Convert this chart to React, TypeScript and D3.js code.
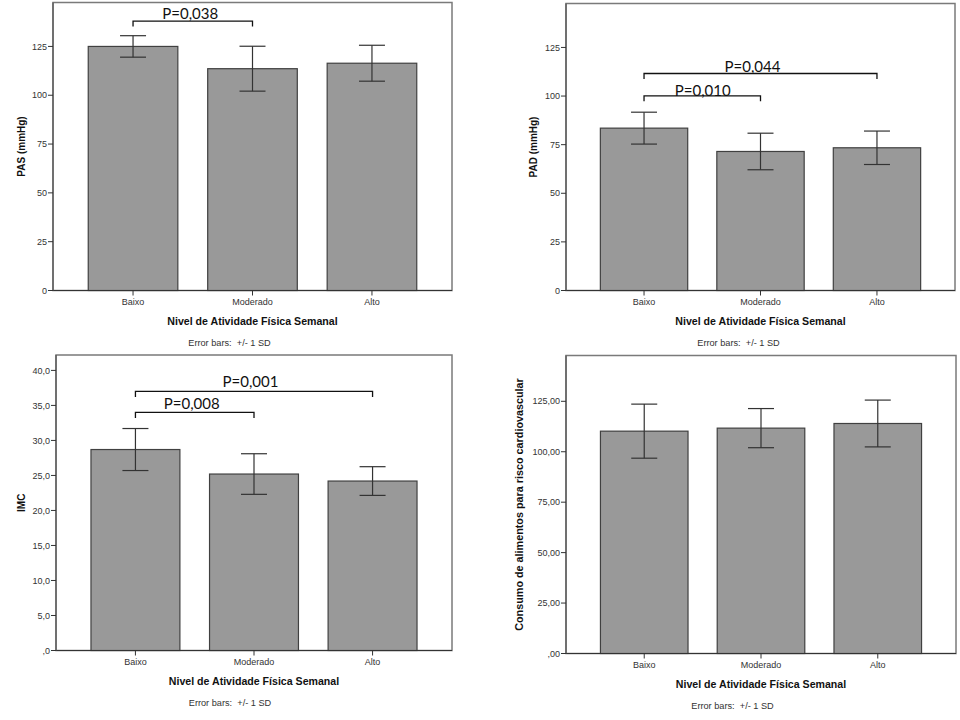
import React from "react";
import * as d3 from "d3";

// ---------- data ----------
const categories = ["Baixo", "Moderado", "Alto"];

const pasMean = [125.0, 113.6, 116.4];
const pasSD = [5.5, 11.5, 9.2];
const padMean = [83.5, 71.5, 73.4];
const padSD = [8.2, 9.4, 8.6];
const imcMean = [28.7, 25.2, 24.2];
const imcSD = [3.0, 2.9, 2.05];
const consMean = [110.2, 111.7, 114.0];
const consSD = [13.4, 9.7, 11.6];

const pasTicks = [0, 25, 50, 75, 100, 125];
const padTicks = [0, 25, 50, 75, 100, 125];
const imcTicks = [0, 5, 10, 15, 20, 25, 30, 35, 40];
const consTicks = [0, 25, 50, 75, 100, 125];

const pasBrackets = [{ from: 0, to: 1, level: 138, label: "P=0,038" }];
const padBrackets = [
  { from: 0, to: 2, level: 111.6, label: "P=0,044" },
  { from: 0, to: 1, level: 100.1, label: "P=0,010" },
];
const imcBrackets = [
  { from: 0, to: 2, level: 37.0, label: "P=0,001" },
  { from: 0, to: 1, level: 34.0, label: "P=0,008" },
];
const consBrackets: { from: number; to: number; level: number; label: string }[] = [];

const xTitle = "Nivel de Atividade Física Semanal";
const caption = "Error bars:  +/- 1 SD";

// ---------- formatting ----------
const fmtInt = (d: number) => String(d);
const fmt1 = (d: number) => (d === 0 ? ",0" : d.toFixed(1).replace(".", ","));
const fmt2 = (d: number) => (d === 0 ? ",00" : d.toFixed(2).replace(".", ","));

// ---------- layout (positions / styles) ----------
const panels = [
  {
    yLabel: "PAS (mmHg)", mean: pasMean, sd: pasSD, ticks: pasTicks, fmt: fmtInt, yMax: 147.5,
    brackets: pasBrackets, left: 53, right: 452, top: 2.5, bottom: 290.5, yLabelOff: 28.5, yLabelSize: 10,
    labelDx: [-2.5], labelDy: [-2.5], capOff: 23,
  },
  {
    yLabel: "PAD (mmHg)", mean: padMean, sd: padSD, ticks: padTicks, fmt: fmtInt, yMax: 147.6,
    brackets: padBrackets, left: 566, right: 955, top: 3.5, bottom: 290.5, yLabelOff: 29, yLabelSize: 10,
    labelDx: [-8, 0.5], labelDy: [-2, 0], capOff: 22,
  },
  {
    yLabel: "IMC", mean: imcMean, sd: imcSD, ticks: imcTicks, fmt: fmt1, yMax: 42.2,
    brackets: imcBrackets, left: 56, right: 452, top: 355, bottom: 650.5, yLabelOff: 31.5, yLabelSize: 10,
    labelDx: [-3.5, -3], labelDy: [-4, -3], capOff: 24,
  },
  {
    yLabel: "Consumo de alimentos para risco cardiovascular", mean: consMean, sd: consSD, ticks: consTicks,
    fmt: fmt2, yMax: 147.7, brackets: consBrackets, left: 566, right: 956, top: 355.5, bottom: 653.5,
    yLabelOff: 43, yLabelSize: 10.8, labelDx: [], labelDy: [], capOff: 28.5,
  },
];

const AXIS_FONT = "'Liberation Sans', Arial, sans-serif";
const P_FONT = "Lato, 'Open Sans', sans-serif";

function Panel({ p }: { p: (typeof panels)[number] }) {
  const x = d3.scalePoint<string>().domain(categories).range([p.left, p.right]).padding(0.67);
  const y = d3.scaleLinear().domain([0, p.yMax]).range([p.bottom, p.top]);
  const step = x.step();
  const bw = step * 0.75;
  const cap = 13;
  const midX = (p.left + p.right) / 2;
  const midY = (p.top + p.bottom) / 2;
  return (
    <g>
      {/* frame */}
      <rect x={p.left} y={p.top} width={p.right - p.left} height={p.bottom - p.top}
        fill="none" stroke="#7a7a7a" strokeWidth={1.5} />
      {/* bars */}
      {categories.map((c, i) => (
        <rect key={c} x={x(c)! - bw / 2} y={y(p.mean[i])} width={bw} height={y(0) - y(p.mean[i])}
          fill="#999999" stroke="#404040" strokeWidth={1.2} />
      ))}
      {/* error bars */}
      {categories.map((c, i) => {
        const cx = x(c)!;
        const hi = y(p.mean[i] + p.sd[i]);
        const lo = y(p.mean[i] - p.sd[i]);
        return (
          <g key={c} stroke="#333" strokeWidth={1.2}>
            <line x1={cx} x2={cx} y1={hi} y2={lo} />
            <line x1={cx - cap} x2={cx + cap} y1={hi} y2={hi} />
            <line x1={cx - cap} x2={cx + cap} y1={lo} y2={lo} />
          </g>
        );
      })}
      {/* axes */}
      <line x1={p.left} x2={p.right} y1={p.bottom} y2={p.bottom} stroke="#333" strokeWidth={1.2} />
      <line x1={p.left} x2={p.left} y1={p.top} y2={p.bottom} stroke="#555" strokeWidth={1.2} />
      {p.ticks.map((t) => (
        <g key={t}>
          <line x1={p.left - 5} x2={p.left} y1={y(t)} y2={y(t)} stroke="#333" strokeWidth={1} />
          <text x={p.left - 6} y={y(t) + 3.2} textAnchor="end" fontFamily={AXIS_FONT} fontSize={9} fill="#333">
            {p.fmt(t)}
          </text>
        </g>
      ))}
      {categories.map((c) => (
        <g key={c}>
          <line x1={x(c)} x2={x(c)} y1={p.bottom} y2={p.bottom + 5} stroke="#333" strokeWidth={1} />
          <text x={x(c)} y={p.bottom + 14.5} textAnchor="middle" fontFamily={AXIS_FONT} fontSize={9} fill="#333">
            {c}
          </text>
        </g>
      ))}
      {/* titles */}
      <text x={midX} y={p.bottom + 34} textAnchor="middle" fontFamily={AXIS_FONT} fontSize={10.6}
        fontWeight="bold" fill="#111">{xTitle}</text>
      <text x={midX - p.capOff} y={p.bottom + 55} textAnchor="middle" fontFamily={AXIS_FONT} fontSize={9.2}
        fill="#333" style={{ whiteSpace: "pre" }}>{caption}</text>
      <text transform={`translate(${p.left - p.yLabelOff},${midY}) rotate(-90)`} textAnchor="middle"
        fontFamily={AXIS_FONT} fontSize={p.yLabelSize} fontWeight="bold" fill="#111">{p.yLabel}</text>
      {/* significance brackets */}
      {p.brackets.map((b, k) => {
        const x1 = x(categories[b.from])!;
        const x2 = x(categories[b.to])!;
        const by = y(b.level);
        return (
          <g key={k}>
            <path d={`M${x1},${by + 5.5}V${by}H${x2}V${by + 5.5}`} fill="none" stroke="#111" strokeWidth={1.3} />
            <text x={(x1 + x2) / 2 + (p.labelDx[k] ?? 0)} y={by + (p.labelDy[k] ?? -3)} textAnchor="middle"
              fontFamily={P_FONT} fontSize={15} fill="#111">{b.label}</text>
          </g>
        );
      })}
    </g>
  );
}

export default function App() {
  return (
    <svg width={960} height={720} style={{ position: "absolute", left: 0, top: 0, background: "#fff" }}>
      <rect width={960} height={720} fill="#fff" />
      {panels.map((p, i) => (
        <Panel key={i} p={p} />
      ))}
    </svg>
  );
}
